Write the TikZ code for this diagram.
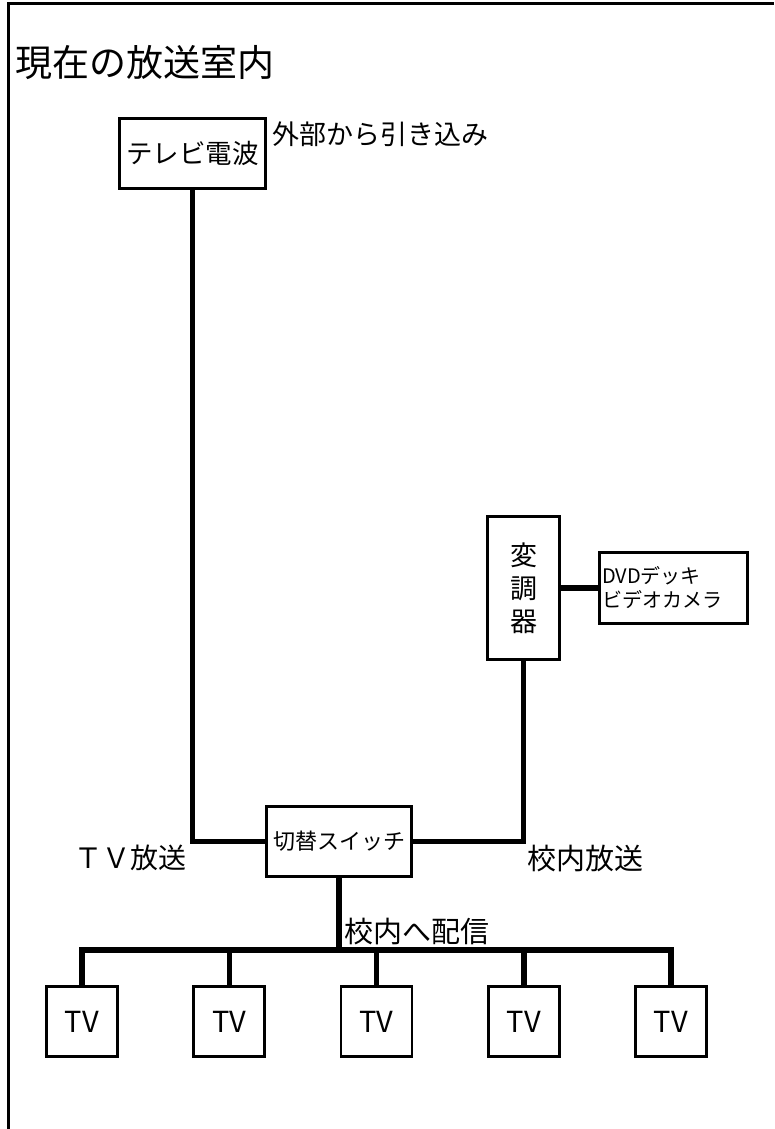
\documentclass[tikz,border=0pt]{standalone}
\usepackage{fontspec}
\setmainfont{Noto Sans CJK JP}
\newcommand\fsz[1]{\fontsize{#1}{#1}\selectfont}

\begin{document}
\begin{tikzpicture}[x=1pt, y=-1pt,
    box/.style={draw, line width=2.8pt, inner sep=0pt},
    lbl/.style={inner sep=0pt},
    wire/.style={line width=5.5pt}]
    \useasboundingbox (0,0) rectangle (774,1129);
    % frame
    \draw[line width=3pt] (8.5,1129) -- (8.5,3.5) -- (774,3.5);

    \node[lbl, anchor=west, font=\fsz{37}] (title) at (15, 63) {現在の放送室内};
    \node[box, minimum width=146pt, minimum height=70pt, font=\fsz{26.5}] (wave) at (192.5, 153.5) {テレビ電波};
    \node[lbl, anchor=west, font=\fsz{27}] (ext) at (272, 134) {外部から引き込み};
    \node[box, minimum width=145pt, minimum height=70pt, font=\fsz{22}] (sw) at (339, 841.5) {切替スイッチ};
    \node[box, minimum width=72pt, minimum height=143pt, align=center,
          font=\fontsize{27}{33}\selectfont] (mod) at (523.5, 588) {変\\調\\器};
    \node[box, minimum width=148pt, minimum height=71pt, text width=143pt, align=left,
          font=\fontsize{20}{24}\selectfont] (dvd) at (673.5, 588) {DVDデッキ\\ビデオカメラ};
    \node[lbl, anchor=east, font=\fsz{28}] (tvb) at (187, 858) {ＴＶ放送};
    \node[lbl, anchor=west, font=\fsz{29}] (inb) at (527, 858.5) {校内放送};
    \node[lbl, anchor=west, font=\fsz{29}] (dist) at (344, 932) {校内へ配信};
    \foreach \i in {1,...,5}
        \node[box, minimum width=71pt, minimum height=70pt, font=\fsz{29}] (tv\i) at ({82+147.25*(\i-1)}, 1021.5) {TV};

    \draw[wire] (wave.south) |- (sw.west);
    \draw[wire] (mod.south) |- (sw.east);
    \draw[wire] (mod.east) -- (dvd.west);
    \coordinate (hub) at (339, 950);
    \draw[wire] (sw.south) -- (hub);
    \foreach \i in {1,...,5}
        \draw[wire] (hub) -| (tv\i.north);
\end{tikzpicture}
\end{document}
